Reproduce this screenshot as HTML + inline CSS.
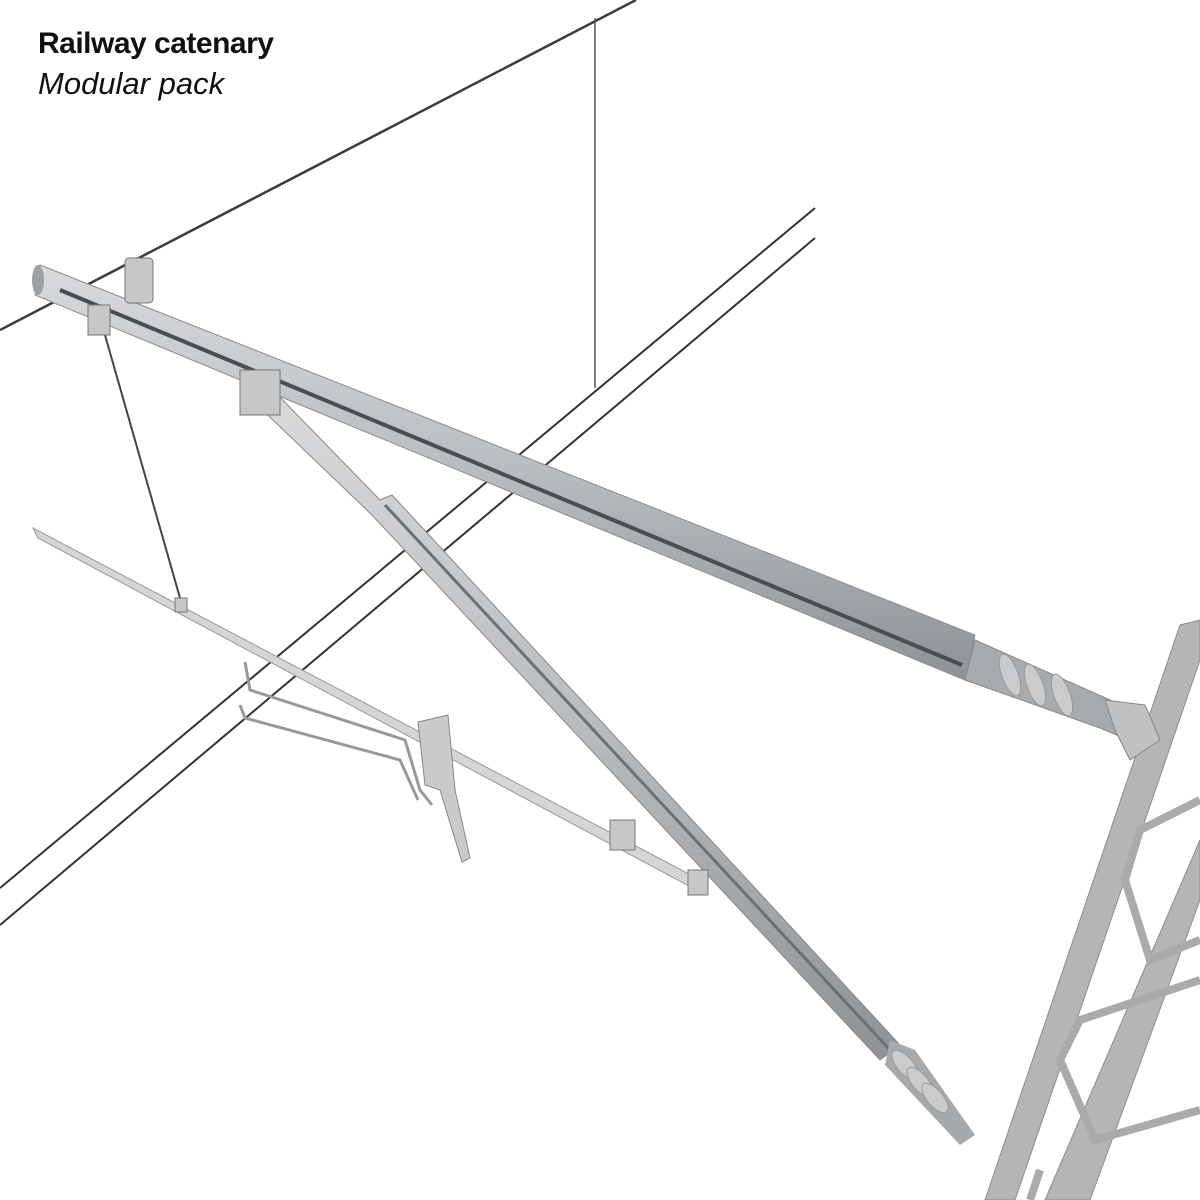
<!DOCTYPE html>
<html><head><meta charset="utf-8"><style>
html,body{margin:0;padding:0;background:#fff;}
.t{position:absolute;left:38px;font-family:"Liberation Sans",sans-serif;color:#111;}
</style></head><body>
<div style="position:relative;width:1200px;height:1200px;overflow:hidden;">
<svg width="1200" height="1200" viewBox="0 0 1200 1200" style="position:absolute;left:0;top:0">
<defs>
<linearGradient id="g1" x1="0" y1="0" x2="0" y2="1"><stop offset="0" stop-color="#d8dadc"/><stop offset="0.5" stop-color="#b9bcbf"/><stop offset="1" stop-color="#8e9296"/></linearGradient>
</defs>
<line x1="0" y1="330" x2="636" y2="0" stroke="#3a3d40" stroke-width="2.5"/>
<line x1="595" y1="18" x2="595" y2="388" stroke="#555" stroke-width="1.5"/>
<line x1="815" y1="208" x2="0" y2="888" stroke="#333" stroke-width="2"/>
<line x1="815" y1="238" x2="0" y2="925" stroke="#333" stroke-width="2"/>
<line x1="105" y1="335" x2="182" y2="605" stroke="#444" stroke-width="2"/>
<polygon points="33,528 38,538 702,893 706,883" fill="#d3d5d7" stroke="#999" stroke-width="1"/>
<polyline points="245,662 250,690 405,740 420,790 432,805" fill="none" stroke="#999" stroke-width="3"/>
<polyline points="240,705 245,718 400,760 418,800" fill="none" stroke="#999" stroke-width="3"/>
<polygon points="418,722 448,715 455,790 470,858 462,862 440,790 425,785" fill="#c8cacc" stroke="#888"/>
<g fill="#b3b5b7" stroke="#8a8c8e" stroke-width="1">
<polygon points="1180,625 1200,620 1200,660 1015,1200 985,1200"/>
<polygon points="1200,840 1200,900 1090,1200 1045,1200"/>
</g>
<g fill="none" stroke="#a8aaac" stroke-width="8">
<polyline points="1200,800 1140,830 1125,880 1150,960 1200,940"/>
<polyline points="1200,980 1080,1020 1060,1060 1095,1140 1200,1110"/>
<polyline points="1040,1170 1030,1200"/>
</g>
<polygon points="250,398 275,392 380,500 392,495 900,1045 880,1060 372,515" fill="url(#g1)" stroke="#888"/>
<line x1="385" y1="505" x2="890" y2="1050" stroke="#6d7175" stroke-width="3"/>
<polygon points="890,1040 915,1050 975,1135 960,1145 885,1065" fill="#a7aaad"/>
<g fill="#c9cbcd" stroke="#999"><ellipse cx="905" cy="1065" rx="18" ry="8" transform="rotate(50 905 1065)"/><ellipse cx="920" cy="1082" rx="18" ry="8" transform="rotate(50 920 1082)"/><ellipse cx="935" cy="1098" rx="18" ry="8" transform="rotate(50 935 1098)"/></g>
<polygon points="40,265 975,635 965,680 35,295" fill="url(#g1)" stroke="#8a8d90"/>
<ellipse cx="38" cy="280" rx="6" ry="15" fill="#9ea1a4"/>
<line x1="60" y1="290" x2="962" y2="665" stroke="#4a4e52" stroke-width="4"/>
<polygon points="975,640 1110,700 1150,720 1140,745 1100,728 965,680" fill="#a8abae" stroke="#888"/>
<g fill="#c9cbcd" stroke="#999"><ellipse cx="1010" cy="675" rx="8" ry="22" transform="rotate(-20 1010 675)"/><ellipse cx="1035" cy="685" rx="8" ry="22" transform="rotate(-20 1035 685)"/><ellipse cx="1062" cy="695" rx="8" ry="22" transform="rotate(-20 1062 695)"/></g>
<polygon points="1105,700 1145,705 1160,740 1130,760 1115,730" fill="#bfc1c3" stroke="#888"/>
<g fill="#c5c7c9" stroke="#777">
<rect x="125" y="258" width="28" height="45" rx="4"/>
<rect x="88" y="305" width="22" height="30"/>
<rect x="240" y="370" width="40" height="45"/>
<rect x="610" y="820" width="25" height="30"/>
<rect x="688" y="870" width="20" height="25"/>
<rect x="175" y="598" width="12" height="14"/>
</g>
</svg>
<div class="t" style="top:27px;font-size:30px;font-weight:bold;letter-spacing:-0.5px;">Railway catenary</div>
<div class="t" style="top:66px;font-size:31px;font-style:italic;">Modular pack</div>
</div>
</body></html>
